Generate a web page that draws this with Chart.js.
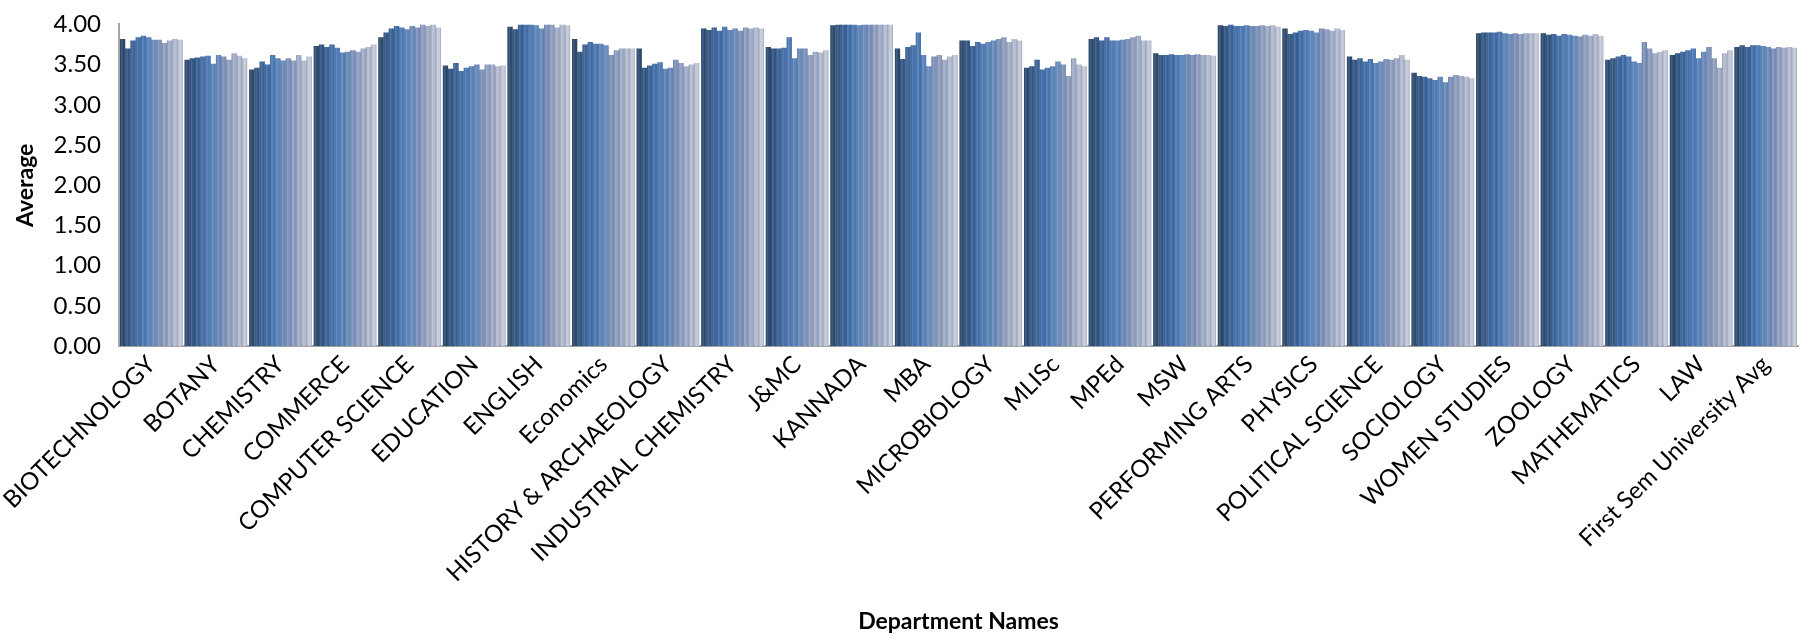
<!DOCTYPE html>
<html>
<head>
<meta charset="utf-8">
<script src="https://cdn.jsdelivr.net/npm/chart.js@4/dist/chart.umd.min.js"></script>
<style>
  html, body { margin: 0; padding: 0; background: #fff; }
  #wrap { width: 1816px; height: 643px; position: relative; }
</style>
</head>
<body>
<div id="wrap"><canvas id="deptChart"></canvas></div>
<script>
// Department names (x axis)
const categories = ['BIOTECHNOLOGY', 'BOTANY', 'CHEMISTRY', 'COMMERCE', 'COMPUTER SCIENCE',
    'EDUCATION', 'ENGLISH', 'Economics', 'HISTORY & ARCHAEOLOGY', 'INDUSTRIAL CHEMISTRY',
    'J&MC', 'KANNADA', 'MBA', 'MICROBIOLOGY', 'MLISc', 'MPEd', 'MSW', 'PERFORMING ARTS',
    'PHYSICS', 'POLITICAL SCIENCE', 'SOCIOLOGY', 'WOMEN STUDIES', 'ZOOLOGY', 'MATHEMATICS',
    'LAW', 'First Sem University Avg'];

// Averages per department, one value per series (12 series)
const biotechnology = [3.82, 3.70, 3.80, 3.84, 3.86, 3.84, 3.81, 3.81, 3.77, 3.80, 3.82, 3.81];
const botany        = [3.56, 3.58, 3.59, 3.60, 3.61, 3.51, 3.62, 3.60, 3.56, 3.64, 3.61, 3.58];
const chemistry     = [3.44, 3.46, 3.54, 3.50, 3.62, 3.58, 3.55, 3.58, 3.55, 3.62, 3.55, 3.60];
const commerce      = [3.73, 3.75, 3.72, 3.75, 3.71, 3.65, 3.66, 3.68, 3.66, 3.70, 3.72, 3.75];
const computerSci   = [3.84, 3.90, 3.95, 3.98, 3.96, 3.94, 3.98, 3.96, 4.00, 3.98, 4.00, 3.96];
const education     = [3.49, 3.45, 3.52, 3.42, 3.46, 3.48, 3.50, 3.44, 3.50, 3.50, 3.48, 3.49];
const english       = [3.97, 3.94, 4.00, 4.00, 4.00, 3.99, 3.95, 4.00, 4.00, 3.96, 4.00, 3.99];
const economics     = [3.82, 3.66, 3.75, 3.78, 3.76, 3.76, 3.74, 3.62, 3.68, 3.70, 3.70, 3.70];
const history       = [3.70, 3.46, 3.49, 3.51, 3.53, 3.45, 3.46, 3.56, 3.52, 3.48, 3.50, 3.52];
const indChemistry  = [3.95, 3.93, 3.96, 3.92, 3.97, 3.93, 3.95, 3.92, 3.96, 3.95, 3.96, 3.95];
const jmc           = [3.72, 3.70, 3.70, 3.71, 3.84, 3.58, 3.70, 3.70, 3.62, 3.66, 3.65, 3.68];
const kannada       = [3.99, 4.00, 4.00, 4.00, 4.00, 3.99, 4.00, 4.00, 4.00, 4.00, 4.00, 4.00];
const mba           = [3.70, 3.57, 3.72, 3.74, 3.90, 3.62, 3.48, 3.60, 3.62, 3.56, 3.60, 3.62];
const microbiology  = [3.80, 3.80, 3.73, 3.78, 3.76, 3.78, 3.80, 3.82, 3.84, 3.78, 3.82, 3.80];
const mlisc         = [3.46, 3.48, 3.56, 3.44, 3.46, 3.48, 3.54, 3.50, 3.36, 3.58, 3.50, 3.48];
const mped          = [3.82, 3.84, 3.80, 3.84, 3.80, 3.80, 3.81, 3.82, 3.84, 3.86, 3.80, 3.80];
const msw           = [3.64, 3.62, 3.62, 3.63, 3.62, 3.62, 3.63, 3.62, 3.63, 3.62, 3.62, 3.61];
const performing    = [3.99, 3.98, 4.00, 3.98, 3.98, 3.99, 3.98, 3.98, 3.99, 3.98, 3.99, 3.97];
const physics       = [3.95, 3.88, 3.90, 3.92, 3.93, 3.92, 3.90, 3.95, 3.94, 3.92, 3.95, 3.93];
const politicalSci  = [3.60, 3.56, 3.58, 3.54, 3.57, 3.52, 3.54, 3.57, 3.56, 3.58, 3.62, 3.56];
const sociology     = [3.40, 3.36, 3.35, 3.33, 3.31, 3.35, 3.28, 3.35, 3.37, 3.36, 3.35, 3.33];
const womenStudies  = [3.89, 3.90, 3.90, 3.90, 3.91, 3.89, 3.88, 3.89, 3.88, 3.89, 3.89, 3.89];
const zoology       = [3.89, 3.87, 3.88, 3.86, 3.88, 3.87, 3.86, 3.85, 3.87, 3.86, 3.88, 3.86];
const mathematics   = [3.56, 3.58, 3.60, 3.62, 3.60, 3.54, 3.52, 3.78, 3.70, 3.64, 3.66, 3.68];
const law           = [3.62, 3.64, 3.66, 3.68, 3.70, 3.58, 3.66, 3.72, 3.58, 3.46, 3.64, 3.68];
const universityAvg = [3.72, 3.74, 3.72, 3.74, 3.74, 3.73, 3.72, 3.70, 3.72, 3.71, 3.72, 3.71];

const yTicks = [0, 0.5, 1, 1.5, 2, 2.5, 3, 3.5, 4];

const rows = [biotechnology, botany, chemistry, commerce, computerSci, education, english,
    economics, history, indChemistry, jmc, kannada, mba, microbiology, mlisc, mped, msw,
    performing, physics, politicalSci, sociology, womenStudies, zoology, mathematics, law,
    universityAvg];

// dark blue -> pale grey-blue, like the monochrome office palette
const seriesColors = ['#24446C', '#2B5182', '#335E97', '#3B6AA9', '#4676B5', '#5482BD',
    '#6589BD', '#7890BC', '#8C9DC2', '#9FACC9', '#B1BBD2', '#C1C8DA'];

const datasets = seriesColors.map(function(color, s) {
    return {
        label: 'Series ' + (s + 1),
        data: rows.map(function(r) { return r[s]; }),
        backgroundColor: color,
        borderWidth: 0,
        barPercentage: 1.0,
        categoryPercentage: 0.97
    };
});

// rounded shading on each bar, to hint at the 3D cylinders
const shadePlugin = {
    id: 'shade',
    afterDatasetDraw: function(chart, args) {
        const ctx = chart.ctx;
        const meta = args.meta;
        ctx.save();
        meta.data.forEach(function(bar) {
            const left = bar.x - bar.width / 2;
            const g = ctx.createLinearGradient(left, 0, left + bar.width, 0);
            g.addColorStop(0, 'rgba(0,0,0,0.2)');
            g.addColorStop(0.35, 'rgba(255,255,255,0.15)');
            g.addColorStop(0.7, 'rgba(255,255,255,0.0)');
            g.addColorStop(1, 'rgba(0,0,0,0.25)');
            ctx.fillStyle = g;
            ctx.fillRect(left, bar.y, bar.width, bar.base - bar.y);
        });
        ctx.restore();
    }
};

var ctx = document.getElementById('deptChart').getContext('2d');
var deptChart = new Chart(ctx, {
    type: 'bar',
    data: { labels: categories, datasets: datasets },
    plugins: [shadePlugin],
    options: {
        responsive: true,
        maintainAspectRatio: false,
        animation: false,
        layout: { padding: { left: 8, right: 18, top: 8, bottom: 4 } },
        plugins: {
            legend: { display: false },
            tooltip: { enabled: false }
        },
        scales: {
            x: {
                grid: { display: false, drawTicks: false },
                border: { color: '#A6A6A6', width: 2 },
                ticks: {
                    color: '#000',
                    font: { family: 'Lato', size: 24 },
                    maxRotation: 45,
                    minRotation: 45,
                    autoSkip: false,
                    padding: 4
                },
                title: {
                    display: true,
                    text: 'Department Names',
                    color: '#000',
                    font: { family: 'Lato', size: 23, weight: 'bold' },
                    padding: { top: 16 }
                }
            },
            y: {
                min: 0,
                max: 4,
                afterBuildTicks: function(axis) {
                    axis.ticks = yTicks.map(function(v) { return { value: v }; });
                },
                grid: { display: false, drawTicks: true, tickLength: 8, tickColor: '#8C8C8C' },
                border: { color: '#A6A6A6', width: 2 },
                ticks: {
                    color: '#000',
                    font: { family: 'Lato', size: 24 },
                    padding: 10,
                    callback: function(v) { return Number(v).toFixed(2); }
                },
                title: {
                    display: true,
                    text: 'Average',
                    color: '#000',
                    font: { family: 'Lato', size: 23, weight: 'bold' },
                    padding: { bottom: 4 }
                }
            }
        }
    }
});
</script>
</body>
</html>
